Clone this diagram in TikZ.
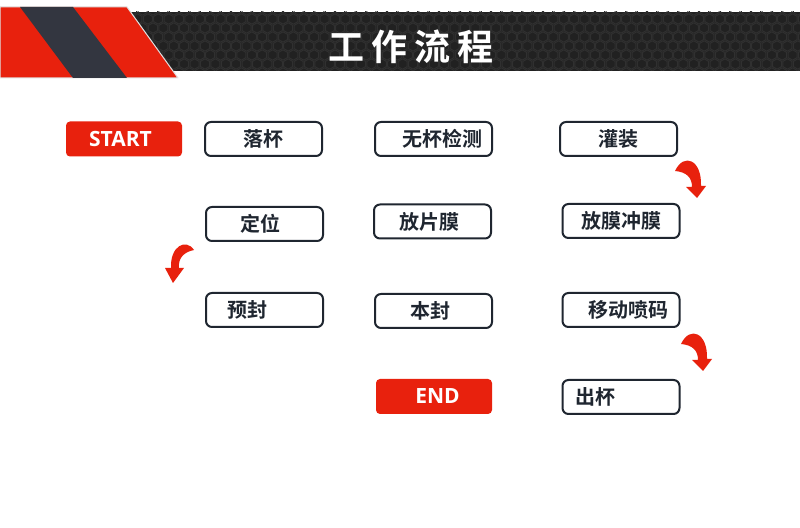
\documentclass[tikz,border=0pt]{standalone}
\usepackage{fontspec}
\newfontfamily\cjkfont{Noto Sans CJK SC Bold}
\newfontfamily\titlefont{Noto Sans CJK SC Bold}[LetterSpace=20]
\newfontfamily\latinfont{Open Sans Bold}
\definecolor{redcol}{rgb}{0.91,0.13,0.05}
\definecolor{boxcol}{rgb}{0.12,0.15,0.19}
\definecolor{bandcol}{rgb}{0.13,0.13,0.13}
\definecolor{hexcol}{rgb}{0.19,0.19,0.19}
\definecolor{stripecol}{rgb}{0.2,0.21,0.25}
\begin{document}
\begin{tikzpicture}[x=1bp,y=1bp,line join=round,
  procbox/.style={draw=boxcol,line width=2bp,rounded corners=6bp,rectangle,
    minimum width=117bp,minimum height=34bp,inner sep=0pt,
    text=boxcol,font=\cjkfont\fontsize{20bp}{24bp}\selectfont},
  endbox/.style={fill=redcol,rounded corners=4bp,rectangle,
    minimum width=116bp,minimum height=35bp,inner sep=0pt,
    text=white,font=\latinfont\fontsize{21bp}{24bp}\selectfont},
  hexcell/.style={draw=hexcol,line width=1bp},
  curl/.style={fill=redcol,draw=none}]
%%
\useasboundingbox (0,0) rectangle (800,528);
\fill[white] (0,0) rectangle (800,528);
%% header
\fill[bandcol] (127,457) rectangle (800,516);
\begin{scope}
  \clip (127,457) rectangle (800,516);
  \foreach \j in {0,...,7}{
    \foreach \i in {0,...,65}{
      \draw[hexcell] ({127+\i*10.4+mod(\j,2)*5.2},{455+\j*9}) +(30:5.2) -- +(90:5.2) -- +(150:5.2)
        -- +(210:5.2) -- +(270:5.2) -- +(330:5.2) -- cycle;
    }
  }
\end{scope}
\fill[redcol,draw=black!12,line width=1bp] (0,521) -- (127,521) -- (178,450) -- (0,450) -- cycle;
\fill[stripecol] (20,521) -- (73,521) -- (127,450) -- (73,450) -- cycle;
\node (title) at (411bp,481bp) [text=white,font=\titlefont\fontsize{36bp}{40bp}\selectfont] {工作流程};
%% steps
\node (start) at (124bp,389bp) [endbox] {START\kern7bp};
\node (luobei) at (263.5bp,389bp) [procbox] {落杯};
\node (wubei) at (433.5bp,389bp) [procbox] {\kern17bp 无杯检测};
\node (guanzhuang) at (618.5bp,389bp) [procbox] {灌装};
\node (dingwei) at (264.5bp,304bp) [procbox] {定位\kern9bp};
\node (fangpian) at (432.5bp,306.5bp) [procbox] {放片膜\kern7bp};
\node (chongmo) at (621bp,307bp) [procbox] {放膜冲膜};
\node (yufeng) at (264.5bp,218bp) [procbox] {预封\kern35bp};
\node (benfeng) at (433.5bp,217bp) [procbox] {本封\kern7bp};
\node (penma) at (621bp,218bp) [procbox] {\kern15bp 移动喷码};
\node (endnode) at (434bp,131.5bp) [endbox] {\kern7bp END};
\node (chubei) at (621bp,131bp) [procbox] {出杯\kern52bp};
%% curled arrows
\fill[curl] (194,278) .. controls (186,290) and (170,282) .. (171,260) -- (165,260) -- (173,245)
  -- (184,260) -- (179,260) .. controls (178,270) and (184,276) .. (194,278) -- cycle;
\fill[curl] (675,357) .. controls (684,376) and (702,368) .. (701,342) -- (706,342) -- (697,330)
  -- (686,341) -- (692,341) .. controls (692,351) and (686,356) .. (675,357) -- cycle;
\begin{scope}[shift={(6,-173)}]
\fill[curl] (675,357) .. controls (684,376) and (702,368) .. (701,342) -- (706,342) -- (697,330)
  -- (686,341) -- (692,341) .. controls (692,351) and (686,356) .. (675,357) -- cycle;
\end{scope}
%
\end{tikzpicture}
\end{document}
